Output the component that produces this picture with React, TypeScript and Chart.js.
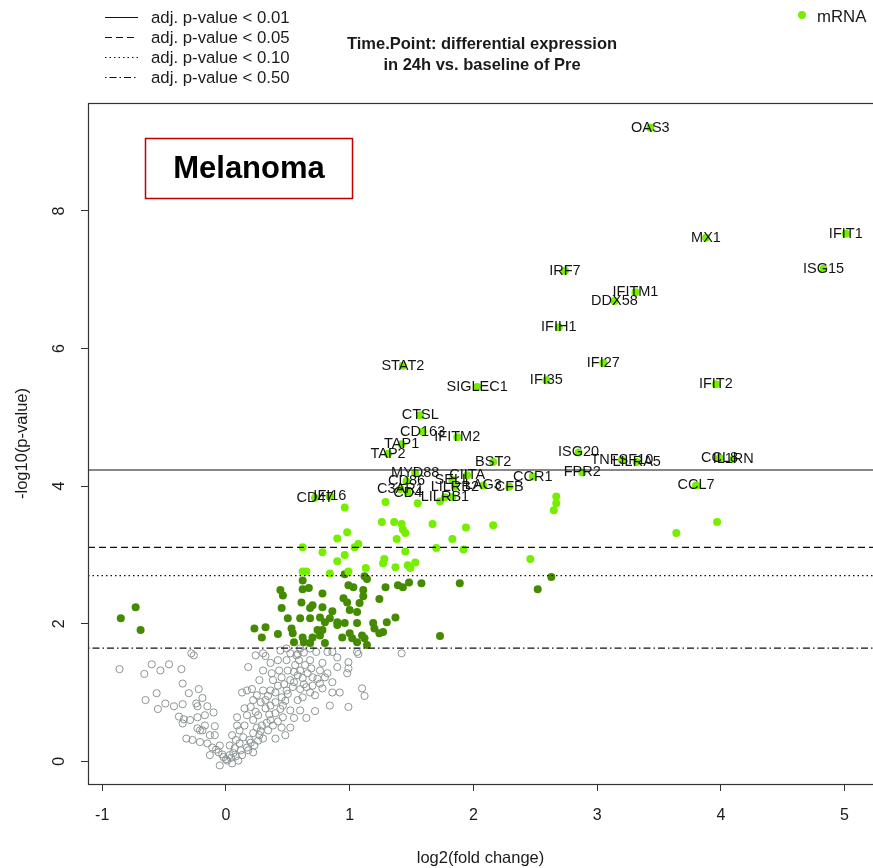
import React, { useEffect, useRef } from "react";
import { Chart, registerables } from "chart.js";

Chart.register(...registerables);

const FONT = '"Liberation Sans", Arial, Helvetica, sans-serif';

// ---------- data ----------
const xRange = [-1.115, 5.23];
const yRange = [-0.33, 9.57];
const xTicks = [-1, 0, 1, 2, 3, 4, 5];
const yTicks = [0, 2, 4, 6, 8];

const titleLines = ["Time.Point: differential expression", "in 24h vs. baseline of Pre"];
const xTitle = "log2(fold change)";
const yTitle = "-log10(p-value)";
const panelLabel = "Melanoma";
const seriesName = "mRNA";

const thresholdLabels = [
  "adj. p-value < 0.01",
  "adj. p-value < 0.05",
  "adj. p-value < 0.10",
  "adj. p-value < 0.50",
];
const thresholdValues = [4.235, 3.11, 2.7, 1.645];

const geneLabels = [
  "OAS3", "MX1", "IFIT1", "ISG15", "IRF7", "IFITM1", "DDX58", "IFIH1", "IFI27", "IFI35",
  "IFIT2", "STAT2", "SIGLEC1", "CTSL", "CD163", "IFITM2", "TAP1", "TAP2", "BST2", "ISG20",
  "TNFSF10", "LILRA5", "CCL8", "IL1RN", "FPR2", "CCL7", "CCR1", "CFB", "LAG3", "MYD88",
  "CIITA", "CD86", "SELL", "LILRB2", "C3AR1", "CD4", "LILRB1", "CD47", "IFI16",
];
const geneX = [
  3.43, 3.88, 5.01, 4.83, 2.74, 3.31, 3.14, 2.69, 3.05, 2.59,
  3.96, 1.43, 2.03, 1.57, 1.59, 1.87, 1.42, 1.31, 2.16, 2.85,
  3.2, 3.32, 3.99, 4.1, 2.88, 3.8, 2.48, 2.29, 2.08, 1.53,
  1.95, 1.46, 1.83, 1.85, 1.41, 1.47, 1.77, 0.72, 0.84,
];
const geneY = [
  9.21, 7.61, 7.67, 7.16, 7.13, 6.82, 6.69, 6.31, 5.79, 5.54,
  5.48, 5.75, 5.44, 5.03, 4.79, 4.71, 4.61, 4.47, 4.35, 4.49,
  4.38, 4.35, 4.41, 4.39, 4.2, 4.01, 4.14, 3.99, 4.01, 4.19,
  4.16, 4.07, 4.09, 3.99, 3.96, 3.9, 3.84, 3.83, 3.85,
];

const lightGreenPoints: [number, number][] = [
  [0.96, 3.69], [1.26, 3.48], [1.36, 3.48], [1.42, 3.45], [1.43, 3.37], [1.45, 3.32], [1.67, 3.45],
  [1.94, 3.4], [0.98, 3.33], [0.9, 3.24], [1.38, 3.23], [1.83, 3.23], [0.62, 3.11], [1.07, 3.16],
  [1.04, 3.11], [1.7, 3.1], [1.92, 3.08], [0.78, 3.04], [1.45, 3.05], [0.96, 3.0], [0.9, 2.91],
  [1.28, 2.94], [1.27, 2.88], [1.53, 2.89], [1.37, 2.82], [1.47, 2.85], [1.49, 2.81], [1.13, 2.81],
  [0.99, 2.76], [0.84, 2.73], [0.62, 2.76], [0.65, 2.76], [1.55, 3.75], [1.73, 3.78], [1.29, 3.77],
  [1.83, 3.84], [2.67, 3.85], [2.67, 3.75], [2.65, 3.65], [3.97, 3.48], [3.64, 3.32], [2.46, 2.94],
  [2.16, 3.43],
];

const darkGreenPoints: [number, number][] = [
  [0.62, 2.63], [0.44, 2.49], [0.46, 2.41], [0.62, 2.5], [0.67, 2.52], [0.78, 2.44], [0.96, 2.72],
  [0.99, 2.56], [1.03, 2.53], [1.12, 2.69], [1.14, 2.65], [1.11, 2.49], [1.11, 2.4], [1.29, 2.53],
  [1.24, 2.36], [1.39, 2.56], [1.43, 2.53], [1.48, 2.6], [1.58, 2.59], [1.89, 2.59],
  [0.45, 2.23], [0.61, 2.31], [0.68, 2.23], [0.7, 2.27], [0.78, 2.24], [0.86, 2.18], [0.95, 2.37],
  [0.98, 2.31], [1.0, 2.2], [1.06, 2.17], [1.08, 2.3],
  [0.5, 2.08], [0.6, 2.08], [0.68, 2.08], [0.76, 2.09], [0.8, 2.02], [0.84, 2.08], [0.9, 2.02],
  [0.96, 2.01], [1.06, 2.01], [1.19, 2.01], [1.3, 2.02], [1.37, 2.09], [1.2, 1.93], [1.24, 1.86],
  [1.27, 1.88],
  [0.23, 1.93], [0.32, 1.95], [0.29, 1.8], [0.42, 1.85], [0.53, 1.93], [0.54, 1.86], [0.62, 1.8],
  [0.63, 1.73], [0.7, 1.8], [0.74, 1.91], [0.76, 1.83], [0.78, 1.91], [0.8, 1.72], [0.94, 1.8],
  [1.0, 1.86], [1.02, 1.79], [1.06, 1.73], [1.1, 1.83], [1.12, 1.79], [1.14, 1.69], [0.9, 1.98],
  [0.55, 1.73], [0.68, 1.72], [1.73, 1.82],
  [-0.85, 2.08], [-0.73, 2.24], [-0.69, 1.91], [2.63, 2.68], [2.52, 2.5],
];

const grayPoints: [number, number][] = [
  [-0.86, 1.34], [-0.66, 1.27], [-0.6, 1.41], [-0.53, 1.32], [-0.46, 1.41], [-0.36, 1.34], [-0.28, 1.57],
  [-0.26, 1.54], [-0.65, 0.89], [-0.56, 0.99], [-0.55, 0.76], [-0.49, 0.84], [-0.42, 0.8], [-0.35, 0.83],
  [-0.35, 1.13], [-0.3, 0.99], [-0.22, 1.05], [-0.24, 0.84], [-0.23, 0.8], [-0.19, 0.92], [-0.15, 0.8],
  [-0.1, 0.71], [-0.38, 0.65], [-0.34, 0.61], [-0.35, 0.55], [-0.29, 0.6], [-0.23, 0.64], [-0.17, 0.67],
  [-0.23, 0.48], [-0.19, 0.45], [-0.09, 0.51], [-0.32, 0.33], [-0.27, 0.31], [-0.21, 0.28], [-0.15, 0.26],
  [-0.11, 0.2], [-0.06, 0.13], [-0.02, 0.06], [0.01, 0.01], [0.03, 0.09], [0.07, 0.19], [0.11, 0.26],
  [0.14, 0.35], [0.09, 0.52], [0.09, 0.64], [0.15, 0.77], [0.13, 1.0], [0.17, 1.03], [0.21, 1.05],
  [0.18, 1.37], [0.24, 1.54], [0.3, 1.57], [0.32, 1.53], [0.36, 1.43], [0.3, 1.32], [0.37, 1.28],
  [0.38, 1.18], [0.27, 1.18], [0.3, 1.03], [0.25, 0.96], [0.22, 0.89], [0.2, 0.79], [0.17, 0.67],
  [0.22, 0.6], [0.25, 0.49], [0.22, 0.41], [0.19, 0.31], [0.17, 0.2], [0.22, 0.13], [0.3, 0.33],
  [0.4, 0.33], [0.36, 0.6], [0.32, 0.77], [0.4, 0.86], [0.45, 0.93], [0.49, 1.03], [0.52, 1.18],
  [0.5, 1.32], [0.49, 1.47], [0.52, 1.57], [0.42, 1.47], [0.45, 1.22], [0.54, 1.08], [0.58, 0.89],
  [0.6, 0.74], [0.52, 0.74], [0.46, 0.64], [0.52, 0.49], [0.45, 0.49], [0.4, 0.7], [0.55, 0.63],
  [0.65, 0.63], [0.62, 0.93], [0.65, 1.08], [0.68, 1.0], [0.72, 0.96], [0.7, 1.22], [0.62, 1.21],
  [0.6, 1.32], [0.59, 1.47], [0.68, 1.47], [0.69, 1.35], [0.76, 1.32], [0.78, 1.43], [0.82, 1.28],
  [0.76, 1.13], [0.78, 1.06], [0.86, 1.0], [0.86, 1.15], [0.92, 1.0], [0.84, 0.81], [0.99, 0.79],
  [0.72, 0.73], [0.9, 1.37], [0.98, 1.28], [0.99, 1.35], [0.99, 1.44], [0.9, 1.51], [0.86, 1.59],
  [0.82, 1.59], [1.06, 1.59], [1.07, 1.56], [1.1, 1.06], [1.12, 0.95], [1.42, 1.57], [0.68, 1.64],
  [0.6, 1.64], [0.49, 1.64],
  [0.03, 0.23], [0.08, 0.31], [0.05, 0.38], [0.11, 0.45], [0.15, 0.52], [0.1, 0.01], [0.13, 0.09],
  [0.18, 0.16], [0.23, 0.23], [0.27, 0.38], [0.29, 0.52], [0.34, 0.45], [0.26, 0.67], [0.32, 0.89],
  [0.36, 1.03], [0.42, 1.1], [0.46, 0.81], [0.43, 1.32], [0.56, 1.4], [0.64, 1.4], [0.57, 1.54],
  [0.73, 1.59], [0.44, 1.61], [-0.09, 0.38], [-0.05, 0.23], [-0.13, 0.38], [-0.17, 0.52], [-0.05, -0.06],
  [0.05, -0.03], [-0.13, 0.09], [-0.21, 0.45], [0.36, 0.81], [0.48, 0.38],
  [0.0, 0.03], [0.04, 0.05], [-0.03, 0.1], [0.06, 0.12], [0.08, 0.07], [-0.08, 0.17], [0.12, 0.16],
  [0.2, 0.27], [0.26, 0.3], [0.28, 0.44], [0.33, 0.56], [0.38, 0.52], [0.35, 0.68], [0.42, 0.58],
  [0.44, 0.76], [0.48, 0.88], [0.5, 0.98], [0.55, 1.15], [0.58, 1.25], [0.47, 1.12], [0.4, 1.0],
  [0.34, 0.95], [0.28, 0.86], [0.24, 0.72], [0.6, 1.05], [0.63, 1.12], [0.66, 1.28], [0.7, 1.1],
  [0.74, 1.2], [0.8, 1.22], [0.55, 1.3], [0.58, 1.56], [0.63, 1.58],
];

// ---------- styles ----------
const LIGHT = "#76EE00";
const DARK = "#458B00";
const GRAY = "#8C9494";
const DASHES: number[][] = [[], [7, 4], [1.5, 3], [1.5, 3, 7, 3]];
const LABELED_INDEX = 4;

const toXY = (arr: [number, number][]) => arr.map(([x, y]) => ({ x, y }));

const decorPlugin = {
  id: "decor",
  afterDatasetsDraw(chart: any) {
    const ctx = chart.ctx as CanvasRenderingContext2D;
    const { left, top, right, bottom } = chart.chartArea;
    ctx.save();

    // plot box (right edge falls just outside the canvas, as in the reference)
    ctx.strokeStyle = "#333";
    ctx.lineWidth = 1.2;
    ctx.setLineDash([]);
    ctx.strokeRect(left + 0.5, top + 0.5, right - left + 4, bottom - top);

    // gene labels
    const meta = chart.getDatasetMeta(LABELED_INDEX);
    ctx.font = `14.5px ${FONT}`;
    ctx.fillStyle = "#141414";
    ctx.textAlign = "center";
    ctx.textBaseline = "middle";
    meta.data.forEach((el: any, i: number) => {
      ctx.fillText(geneLabels[i], el.x, el.y);
    });

    // threshold legend
    ctx.font = `16.8px ${FONT}`;
    ctx.textAlign = "left";
    thresholdLabels.forEach((lab, i) => {
      const y = 17 + i * 20;
      ctx.strokeStyle = "#111";
      ctx.lineWidth = 1.2;
      ctx.setLineDash(DASHES[i]);
      ctx.beginPath();
      ctx.moveTo(105, y + 0.5);
      ctx.lineTo(138, y + 0.5);
      ctx.stroke();
      ctx.setLineDash([]);
      ctx.fillStyle = "#1a1a1a";
      ctx.fillText(lab, 151, y + 1);
    });

    // series legend
    ctx.fillStyle = LIGHT;
    ctx.beginPath();
    ctx.arc(802, 15, 4, 0, Math.PI * 2);
    ctx.fill();
    ctx.fillStyle = "#1a1a1a";
    ctx.fillText(seriesName, 817, 17);

    // title
    ctx.font = `bold 16.5px ${FONT}`;
    ctx.textAlign = "center";
    ctx.fillText(titleLines[0], 482, 44);
    ctx.fillText(titleLines[1], 482, 65);

    // panel label
    ctx.strokeStyle = "#C00000";
    ctx.lineWidth = 1.5;
    ctx.strokeRect(145.5, 138.5, 207, 60);
    ctx.fillStyle = "#000";
    ctx.font = `bold 31px ${FONT}`;
    ctx.fillText(panelLabel, 249, 169);

    ctx.restore();
  },
};

export default function App() {
  const ref = useRef<HTMLCanvasElement | null>(null);

  useEffect(() => {
    if (!ref.current) return;
    const lineSets = thresholdValues.map((v, i) => ({
      label: thresholdLabels[i],
      data: [
        { x: xRange[0], y: v },
        { x: xRange[1], y: v },
      ],
      showLine: true,
      borderColor: "#111",
      borderWidth: 1.2,
      borderDash: DASHES[i],
      pointRadius: 0,
      fill: false,
    }));
    const chart = new Chart(ref.current, {
      type: "scatter",
      data: {
        datasets: [
          ...lineSets,
          {
            label: seriesName,
            data: geneX.map((x, i) => ({ x, y: geneY[i] })),
            pointRadius: 4,
            pointBackgroundColor: LIGHT,
            pointBorderWidth: 0,
          },
          {
            label: "light",
            data: toXY(lightGreenPoints),
            pointRadius: 4,
            pointBackgroundColor: LIGHT,
            pointBorderWidth: 0,
          },
          {
            label: "dark",
            data: toXY(darkGreenPoints),
            pointRadius: 4,
            pointBackgroundColor: DARK,
            pointBorderWidth: 0,
          },
          {
            label: "ns",
            data: toXY(grayPoints),
            pointRadius: 3.6,
            pointBackgroundColor: "rgba(0,0,0,0)",
            pointBorderColor: GRAY,
            pointBorderWidth: 1,
          },
        ] as any,
      },
      options: {
        animation: false,
        responsive: false,
        events: [],
        layout: { autoPadding: false, padding: { top: 103, right: 0, bottom: 0, left: 0 } },
        plugins: { legend: { display: false }, tooltip: { enabled: false } },
        scales: {
          x: {
            type: "linear",
            min: xRange[0],
            max: xRange[1],
            afterBuildTicks: (s: any) => {
              s.ticks = xTicks.map((v) => ({ value: v }));
            },
            afterFit: (s: any) => {
              s.height = 84;
              s.paddingLeft = 0;
              s.paddingRight = 0;
            },
            grid: { display: true, drawOnChartArea: false, drawTicks: true, tickLength: 7, color: "#333" },
            border: { display: false },
            ticks: { color: "#1a1a1a", font: { family: FONT, size: 16 }, padding: 15, maxRotation: 0 },
            title: { display: true, text: xTitle, color: "#1a1a1a", font: { family: FONT, size: 16.5 }, padding: { top: 0, bottom: 0 } },
          },
          y: {
            type: "linear",
            min: yRange[0],
            max: yRange[1],
            afterBuildTicks: (s: any) => {
              s.ticks = yTicks.map((v) => ({ value: v }));
            },
            afterFit: (s: any) => {
              s.width = 88;
              s.paddingTop = 0;
              s.paddingBottom = 0;
            },
            grid: { display: true, drawOnChartArea: false, drawTicks: true, tickLength: 7, color: "#333" },
            border: { display: false },
            ticks: {
              color: "#1a1a1a",
              font: { family: FONT, size: 16 },
              padding: 17,
              minRotation: 90,
              maxRotation: 90,
              crossAlign: "center",
            },
            title: { display: true, text: yTitle, color: "#1a1a1a", font: { family: FONT, size: 16.5 }, padding: { top: 13, bottom: 0 } },
          },
        },
      } as any,
      plugins: [decorPlugin],
    });
    return () => chart.destroy();
  }, []);

  return (
    <div style={{ position: "absolute", left: 0, top: 0, width: 873, height: 868, background: "#fff", overflow: "hidden" }}>
      <canvas ref={ref} width={873} height={868} style={{ width: 873, height: 868, display: "block" }} />
    </div>
  );
}
